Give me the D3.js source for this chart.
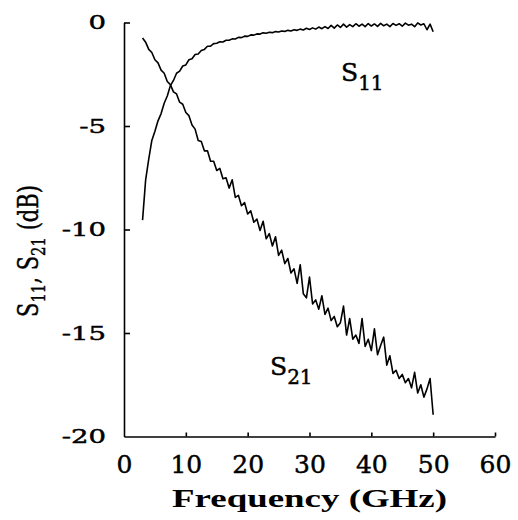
<!DOCTYPE html>
<html>
<head>
<meta charset="utf-8">
<script src="https://cdn.jsdelivr.net/npm/d3@7"></script>
<style>
  body { margin: 0; background: #fff; }
  svg { display: block; }
  text { stroke: #000; stroke-width: 0.45px; }
</style>
</head>
<body>
<svg width="518" height="520"></svg>
<script>
// sweep frequencies (GHz)
const freq = [
  3.0, 3.5, 4.0, 4.5, 5.0, 5.5, 6.0, 6.5, 7.0, 7.5, 8.0, 8.5, 9.0, 9.5, 10.0, 10.5,
  11.0, 11.5, 12.0, 12.5, 13.0, 13.5, 14.0, 14.5, 15.0, 15.5, 16.0, 16.5, 17.0, 17.5,
  18.0, 18.5, 19.0, 19.5, 20.0, 20.5, 21.0, 21.5, 22.0, 22.5, 23.0, 23.5, 24.0, 24.5,
  25.0, 25.5, 26.0, 26.5, 27.0, 27.5, 28.0, 28.5, 29.0, 29.5, 30.0, 30.5, 31.0, 31.5,
  32.0, 32.5, 33.0, 33.5, 34.0, 34.5, 35.0, 35.5, 36.0, 36.5, 37.0, 37.5, 38.0, 38.5,
  39.0, 39.5, 40.0, 40.5, 41.0, 41.5, 42.0, 42.5, 43.0, 43.5, 44.0, 44.5, 45.0, 45.5,
  46.0, 46.5, 47.0, 47.5, 48.0, 48.5, 49.0, 49.5, 50.0
];
const s11 = [
  -9.55, -7.6, -6.6, -5.7, -5.25, -4.75, -4.4, -3.9, -3.55, -3.05, -2.8, -2.45, -2.35, -2.1, -2.05, -1.8,
  -1.75, -1.55, -1.52, -1.35, -1.3, -1.15, -1.14, -1.02, -1.0, -0.93, -0.94, -0.86, -0.86, -0.79,
  -0.8, -0.72, -0.73, -0.66, -0.67, -0.6, -0.61, -0.55, -0.56, -0.5, -0.52, -0.47, -0.49, -0.44,
  -0.46, -0.41, -0.43, -0.38, -0.41, -0.35, -0.38, -0.32, -0.36, -0.28, -0.34, -0.26, -0.32, -0.22,
  -0.3, -0.2, -0.29, -0.14, -0.27, -0.12, -0.24, -0.08, -0.22, -0.1, -0.2, -0.06, -0.18, -0.08,
  -0.2, -0.05, -0.17, -0.07, -0.19, -0.04, -0.16, -0.08, -0.2, -0.05, -0.14, -0.06, -0.18, -0.03,
  -0.13, -0.08, -0.2, -0.02, -0.12, -0.06, -0.35, -0.08, -0.45
];
const s21 = [
  -0.75, -0.95, -1.3, -1.45, -1.8, -1.95, -2.3, -2.45, -2.85, -3.0, -3.35, -3.45, -3.85, -3.95, -4.35, -4.5,
  -4.95, -5.15, -5.7, -5.75, -6.2, -6.2, -6.7, -6.7, -7.15, -7.05, -7.55, -7.5, -8.0, -7.6,
  -8.45, -8.35, -8.85, -8.7, -9.25, -9.1, -9.65, -9.5, -10.05, -9.6, -10.45, -10.2, -10.8, -10.35,
  -11.25, -11.0, -11.65, -11.4, -12.1, -11.9, -12.6, -11.7, -13.1, -13.3, -12.3, -13.6, -13.4, -13.85,
  -13.2, -14.1, -13.8, -14.4, -14.2, -14.7, -14.5, -13.7, -15.1, -14.3, -15.3, -15.1, -15.5, -14.3,
  -15.65, -15.3, -15.85, -14.8, -16.05, -15.6, -15.2, -16.55, -16.1, -16.95, -16.8, -17.2, -17.0, -17.4,
  -17.2, -17.65, -16.9, -17.9, -17.5, -18.1, -17.7, -17.2, -18.95
];
const xTicks = [0, 10, 20, 30, 40, 50, 60];
const yTicks = [0, -5, -10, -15, -20];

const svg = d3.select("svg");
const serif = "'DejaVu Serif', serif";

let x = d3.scaleLinear().domain([0, 60]).range([124, 495]);
let y = d3.scaleLinear().domain([-20, 0]).range([436.5, 22.5]);

// y axis, ticks pointing inward
let gy = svg.append("g")
  .attr("transform", "translate(124,0)")
  .call(d3.axisLeft(y).tickValues(yTicks).tickSizeInner(-6).tickSizeOuter(0).tickFormat(d => d));
gy.selectAll(".tick line").filter(d => d === -20).remove();
gy.selectAll(".tick text")
  .attr("x", -12.4)
  .attr("dy", "0.34em")
  .attr("transform", "scale(1.45,1)")
  .style("font-family", serif)
  .style("font-size", "19px")
  .attr("fill", "#000");

// x axis
let gx = svg.append("g")
  .attr("transform", "translate(0,436.5)")
  .call(d3.axisBottom(x).tickValues(xTicks).tickSizeInner(-4).tickSizeOuter(0));
gx.selectAll(".tick line").filter(d => d === 0).remove();
gx.selectAll(".tick text")
  .attr("y", 36)
  .attr("dy", 0)
  .style("font-family", serif)
  .style("font-size", "25px")
  .attr("fill", "#000");

svg.selectAll(".domain, .tick line").attr("stroke", "#000").attr("stroke-width", 1.6);

// curves
let line = d3.line()
  .x((d, i) => x(freq[i]))
  .y(d => y(d));

[s11, s21].forEach(s => {
  svg.append("path").datum(s)
    .attr("d", line)
    .attr("fill", "none")
    .attr("stroke", "#000")
    .attr("stroke-width", 1.6)
    .attr("stroke-linejoin", "round");
});

// curve labels
function sLabel(px, py, sub) {
  let t = svg.append("text")
    .attr("x", px).attr("y", py)
    .style("font-family", serif)
    .style("font-size", "25px");
  t.append("tspan").text("S");
  t.append("tspan").attr("dy", 9).style("font-size", "20px").text(sub);
}
sLabel(341, 81, "11");
sLabel(270, 375, "21");

// y title
let yt = svg.append("text")
  .attr("transform", "translate(38,251) rotate(-90)")
  .attr("text-anchor", "middle")
  .attr("textLength", 132)
  .attr("lengthAdjust", "spacingAndGlyphs")
  .style("font-family", serif)
  .style("font-size", "27px");
yt.append("tspan").text("S");
yt.append("tspan").attr("dy", 7).style("font-size", "19px").text("11");
yt.append("tspan").attr("dy", -7).text(", S");
yt.append("tspan").attr("dy", 7).style("font-size", "19px").text("21");
yt.append("tspan").attr("dy", -7).text(" (dB)");

// x title
svg.append("text")
  .attr("x", 309.5).attr("y", 507)
  .attr("text-anchor", "middle")
  .attr("textLength", 275)
  .attr("lengthAdjust", "spacingAndGlyphs")
  .style("font-family", "'Liberation Serif', serif")
  .style("font-weight", "bold")
  .style("font-size", "26px")
  .style("stroke-width", "0px")
  .text("Frequency (GHz)");
</script>
</body>
</html>
